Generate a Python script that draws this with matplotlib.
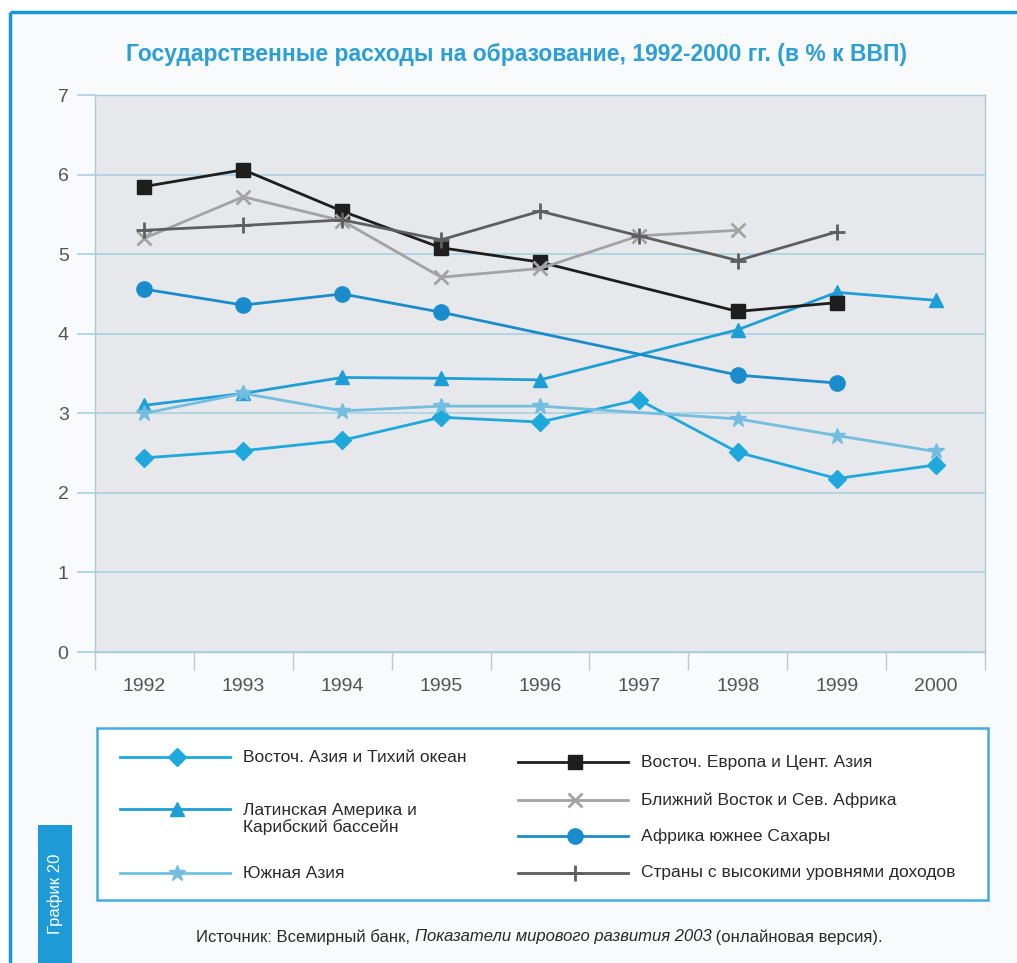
import numpy as np
import matplotlib
matplotlib.use("Agg")
import matplotlib.pyplot as plt
from matplotlib.patches import Rectangle

plt.rcParams['font.family'] = ['Liberation Sans', 'DejaVu Sans']

# data (% of GDP), nan = no value for that year
years = ['1992', '1993', '1994', '1995', '1996', '1997', '1998', '1999', '2000']
nan = np.nan
east_asia = [2.44, 2.53, 2.66, 2.95, 2.89, 3.17, 2.51, 2.18, 2.35]
latin_america = [3.10, 3.25, 3.45, 3.44, 3.42, nan, 4.05, 4.52, 4.42]
south_asia = [3.00, 3.25, 3.03, 3.09, 3.09, nan, 2.93, 2.72, 2.52]
east_europe = [5.85, 6.06, 5.54, 5.08, 4.90, nan, 4.28, 4.39, nan]
middle_east = [5.20, 5.72, 5.42, 4.71, 4.82, 5.23, 5.30, nan, nan]
africa = [4.56, 4.36, 4.50, 4.27, nan, nan, 3.48, 3.38, nan]
high_income = [5.30, 5.36, 5.43, 5.18, 5.54, 5.23, 4.92, 5.28, nan]

series = [
    ('Восточ. Азия и Тихий океан', east_asia, '#1ea8dc', 'D', 9),
    ('Латинская Америка и\nКарибский бассейн', latin_america, '#1d9fd6', '^', 10),
    ('Южная Азия', south_asia, '#72bde0', '*', 12),
    ('Восточ. Европа и Цент. Азия', east_europe, '#1e1e1e', 's', 9.5),
    ('Ближний Восток и Сев. Африка', middle_east, '#a3a3a3', 'x', 10),
    ('Африка южнее Сахары', africa, '#1a8ccc', 'o', 11),
    ('Страны с высокими уровнями доходов', high_income, '#5e5e5e', '+', 12),
]

W, H = 1017, 963
fig = plt.figure(figsize=(W / 100, H / 100), dpi=100)
fig.patch.set_facecolor('white')

# background layer in pixel coordinates
bg = fig.add_axes([0, 0, 1, 1])
bg.set_xlim(0, W)
bg.set_ylim(H, 0)
bg.axis('off')
bg.add_patch(Rectangle((10, 12), W - 10, H - 12, facecolor='#f8fafb', edgecolor='none'))
bg.plot([10, W], [12, 12], color='#1a98d4', lw=2.5, solid_capstyle='butt')
bg.plot([10, 10], [12, H], color='#1a98d4', lw=2.5, solid_capstyle='butt')

bg.text(517, 55, 'Государственные расходы на образование, 1992-2000 гг. (в % к ВВП)',
        ha='center', va='center', fontsize=16.5, color='#2b9fd6', fontweight='bold')

# "График 20" tab
bg.add_patch(Rectangle((38, 825), 34, H - 825, facecolor='#1e9ad6', edgecolor='none'))
bg.text(55, 894, 'График 20', rotation=90, ha='center', va='center', fontsize=12,
        color='white')

# main chart
ax = fig.add_axes([95 / W, 1 - 652 / H, 890 / W, 557 / H])
ax.set_facecolor('#e7e8ec')
x = np.arange(len(years))
for label, vals, color, marker, ms in series:
    v = np.array(vals, dtype=float)
    ok = ~np.isnan(v)
    mew = 2 if marker in ('x', '+') else 1
    ax.plot(x[ok], v[ok], color=color, lw=2, marker=marker, ms=ms,
            markeredgewidth=mew, zorder=3)

ax.set_xlim(-0.5, len(years) - 0.5)
ax.set_ylim(0, 7)
ax.set_yticks(range(8))
ax.set_xticks(x)
ax.set_xticklabels(years)
ax.set_xticks(np.arange(-0.5, len(years)), minor=True)
ax.grid(axis='y', color='#a8d0e2', lw=1.2)
ax.set_axisbelow(True)
for s in ax.spines.values():
    s.set_color('#a8cbdc')
    s.set_linewidth(1)
ax.tick_params(axis='y', length=13, color='#a8d0e2', width=1.2, pad=6,
               labelsize=14, labelcolor='#555555')
ax.tick_params(axis='x', which='major', length=0, pad=19, labelsize=14, labelcolor='#555555')
ax.tick_params(axis='x', which='minor', length=13, color='#c4c8cc', width=1)

# legend box
bg.add_patch(Rectangle((97, 728), 891, 172, facecolor='white', edgecolor='#45ace0', lw=1.8))
slots = [(120, 757), (120, 809), (120, 873), (518, 762), (518, 800), (518, 836), (518, 873)]
for (label, vals, color, marker, ms), (lx, ly) in zip(series, slots):
    mew = 2 if marker in ('x', '+') else 1
    bg.plot([lx, lx + 110], [ly, ly], color=color, lw=2)
    bg.plot([lx + 57], [ly], color=color, marker=marker, ms=ms, markeredgewidth=mew)
    ty = ly + 10 if '\n' in label else ly
    bg.text(lx + 123, ty, label, ha='left', va='center', fontsize=12.5,
            color='#2a2a2a', linespacing=1.15)

# source line
src_y = 937
t1 = bg.text(196, src_y, 'Источник: Всемирный банк, ', ha='left', va='center',
             fontsize=12, color='#2a2a2a')
t2 = bg.annotate('Показатели мирового развития 2003', xy=(1, 0.5), xycoords=t1,
                 ha='left', va='center', fontsize=12, color='#2a2a2a', style='italic')
bg.annotate(' (онлайновая версия).', xy=(1, 0.5), xycoords=t2,
            ha='left', va='center', fontsize=12, color='#2a2a2a')

fig.savefig('out.png', dpi=100, facecolor=fig.get_facecolor())
